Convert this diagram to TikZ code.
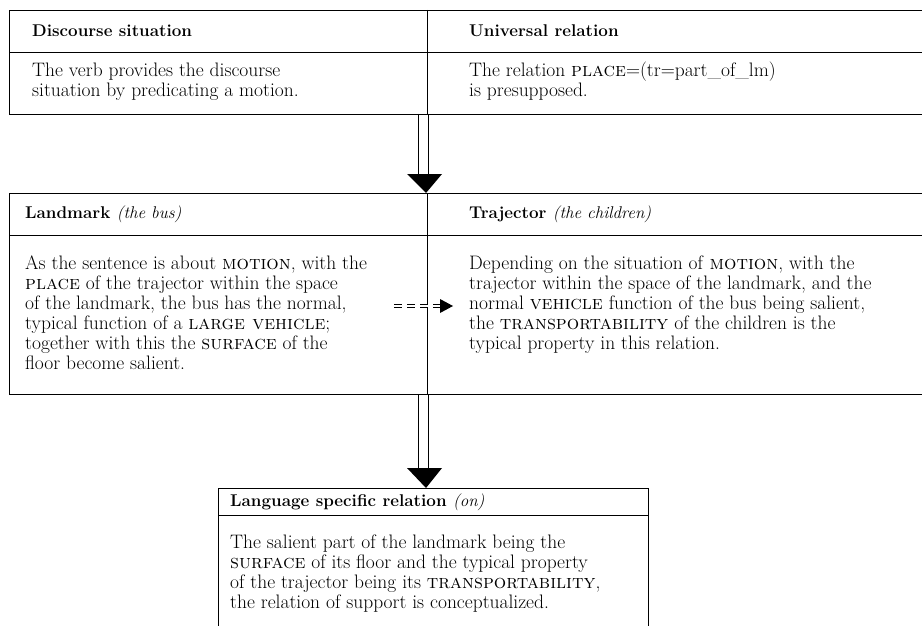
\documentclass[tikz,border=0pt]{standalone}
\usetikzlibrary{arrows.meta,calc}
\begin{document}
\begin{tikzpicture}[x=1pt,y=-1pt]
\tikzset{
  gridline/.style={line width=0.8pt},
  hd/.style={font=\fontsize{17}{20}\selectfont\bfseries, anchor=west, inner sep=0pt},
  bd/.style={font=\fontsize{19.5}{20}\selectfont, anchor=north west, align=left, inner sep=0pt},
  shaftline/.style={line width=1pt},
  headtri/.style={fill=black},
  dashshaft/.style={line width=0.8pt, double, double distance=2pt, dash pattern=on 8pt off 5pt},
}
\useasboundingbox (0,0) rectangle (922,626);
% top table
\draw[gridline] (922,10) -- (9,10) -- (9,114) -- (922,114);
\draw[gridline] (9,52) -- (922,52);
\draw[gridline] (427,10) -- (427,114);
% middle table
\draw[gridline] (922,193) -- (9,193) -- (9,394) -- (922,394);
\draw[gridline] (9,235) -- (922,235);
\draw[gridline] (427,193) -- (427,394);
% bottom table
\draw[gridline] (218,626) -- (218,488) -- (648,488) -- (648,626);
\draw[gridline] (218,515) -- (648,515);

% texts
\node[hd] (ds) at (32,31) {Discourse situation};
\node[hd] (ur) at (469,31) {Universal relation};
\node[bd] (dsb) at (32,63) {The verb provides the discourse\\situation by predicating a motion.};
\node[bd] (urb) at (469,62) {The relation \textsc{place}=(tr=part\_of\_lm)\\is presupposed.};

\node[hd] (lm) at (25,214) {Landmark {\mdseries\itshape (the bus)}};
\node[hd] (tr) at (469,214) {Trajector {\mdseries\itshape (the children)}};
\node[bd] (lmb) at (25,256) {As the sentence is about \textsc{motion}, with the\\
\textsc{place} of the trajector within the space\\
of the landmark, the bus has the normal,\\
typical function of a \textsc{large vehicle};\\
together with this the \textsc{surface} of the\\
floor become salient.};
\node[bd] (trb) at (469,256) {Depending on the situation of \textsc{motion}, with the\\
trajector within the space of the landmark, and the\\
normal \textsc{vehicle} function of the bus being salient,\\
the \textsc{transportability} of the children is the\\
typical property in this relation.};

\node[hd] (ls) at (230,502) {Language specific relation {\mdseries\itshape (on)}};
\node[bd] (lsb) at (230,535) {The salient part of the landmark being the\\
\textsc{surface} of its floor and the typical property\\
of the trajector being its \textsc{transportability},\\
the relation of support is conceptualized.};

% connectors: hollow double-shaft arrows
\coordinate (a1s) at (423,114);
\coordinate (a1e) at (423,176);
\coordinate (a1t) at (426,193);
\draw[shaftline] ($(a1s)+(-5,0)$) -- ($(a1e)+(-5,0)$);
\draw[shaftline] ($(a1s)+(5,0)$) -- ($(a1e)+(5,0)$);
\fill[headtri] ($(a1e)+(-16,-2)$) -- ($(a1e)+(19,-2)$) -- (a1t) -- cycle;

\coordinate (a2s) at (423,394);
\coordinate (a2e) at (423,470);
\coordinate (a2t) at (426,488);
\draw[shaftline] ($(a2s)+(-5,0)$) -- ($(a2e)+(-5,0)$);
\draw[shaftline] ($(a2s)+(5,0)$) -- ($(a2e)+(5,0)$);
\fill[headtri] ($(a2e)+(-16,-2)$) -- ($(a2e)+(19,-2)$) -- (a2t) -- cycle;

% dashed arrow
\coordinate (d1s) at (394,306);
\coordinate (d1e) at (441,306);
\coordinate (d1t) at (453,306);
\draw[dashshaft] (d1s) -- (d1e);
\fill[headtri] ($(d1e)+(-1,-7)$) -- (d1t) -- ($(d1e)+(-1,7)$) -- cycle;
\end{tikzpicture}
\end{document}
